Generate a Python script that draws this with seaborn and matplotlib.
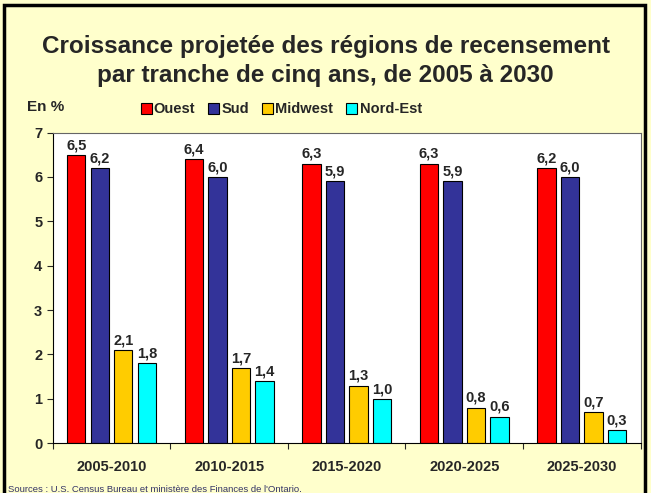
import numpy as np
import pandas as pd
import matplotlib.pyplot as plt
import seaborn as sns
from matplotlib.patches import Rectangle

periods = ['2005-2010', '2010-2015', '2015-2020', '2020-2025', '2025-2030']
regions = ['Ouest', 'Sud', 'Midwest', 'Nord-Est']
ouest = [6.5, 6.4, 6.3, 6.3, 6.2]
sud = [6.2, 6.0, 5.9, 5.9, 6.0]
midwest = [2.1, 1.7, 1.3, 0.8, 0.7]
nord_est = [1.8, 1.4, 1.0, 0.6, 0.3]
colors = ['#FF0000', '#333399', '#FFCC00', '#00FFFF']

df = pd.DataFrame({'periode': periods * 4,
                   'region': np.repeat(regions, len(periods)),
                   'valeur': ouest + sud + midwest + nord_est})

sns.set_style('white')
plt.rcParams['font.family'] = ['Liberation Sans', 'DejaVu Sans']

bg = '#FFFFCC'
fig = plt.figure(figsize=(6.51, 4.93), dpi=100, facecolor=bg)
ax = fig.add_axes([0.081, 0.101, 0.903, 0.630])

sns.barplot(data=df, x='periode', y='valeur', hue='region', palette=colors,
            saturation=1, width=0.8, gap=0.22, edgecolor='black', linewidth=0.8,
            ax=ax, legend=False)

for cont in ax.containers:
    ax.bar_label(cont, labels=[f'{v:.1f}'.replace('.', ',') for v in cont.datavalues],
                 padding=2, fontsize=10.5, fontweight='bold')

ax.set_ylim(0, 7)
ax.set_xlim(-0.5, 4.5)
ax.set_yticks(range(8))
ax.set_yticklabels([str(i) for i in range(8)], fontsize=10.5, fontweight='bold')
ax.set_xticks(range(5))
ax.set_xticklabels(periods, fontsize=10.5, fontweight='bold')
ax.set_xticks(np.arange(-0.5, 5, 1), minor=True)
ax.tick_params(axis='x', which='major', length=0, pad=12)
ax.tick_params(axis='x', which='minor', length=4, width=0.8, direction='out', bottom=True)
ax.tick_params(axis='y', length=4, width=0.8, direction='out', left=True)
ax.set_xlabel('')
ax.set_ylabel('')
for s in ax.spines.values():
    s.set_color('black')
    s.set_linewidth(0.8)
ax.spines['top'].set_color('#666666')
ax.spines['right'].set_color('#666666')

handles = [Rectangle((0, 0), 1, 1, facecolor=c, edgecolor='black', linewidth=0.8) for c in colors]
fig.legend(handles, regions, loc='center', bbox_to_anchor=(0.432, 0.778), ncol=4,
           frameon=False, prop={'weight': 'bold', 'size': 10.5},
           handlelength=0.75, handleheight=0.75, handletextpad=0.15, columnspacing=0.9)

fig.text(0.5, 0.906, 'Croissance projetée des régions de recensement',
         ha='center', va='center', fontsize=17.5, fontweight='bold')
fig.text(0.5, 0.846, 'par tranche de cinq ans, de 2005 à 2030',
         ha='center', va='center', fontsize=17.5, fontweight='bold')
fig.text(0.042, 0.782, 'En %', ha='left', va='center', fontsize=11, fontweight='bold')
fig.text(0.012, 0.008, "Sources : U.S. Census Bureau et ministère des Finances de l'Ontario.",
         ha='left', va='center', fontsize=6.8, color='#333366')

fig.patches.append(Rectangle((0.006, -0.05), 0.985, 1.04, transform=fig.transFigure,
                             fill=False, edgecolor='black', linewidth=2.5, zorder=0))

fig.savefig('out.png', dpi=100, facecolor=bg)
